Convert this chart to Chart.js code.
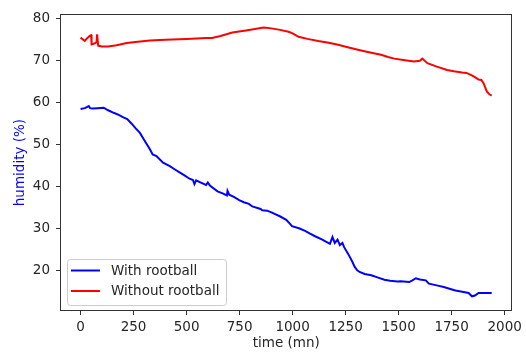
<!DOCTYPE html>
<html>
<head>
<meta charset="utf-8">
<script src="https://cdn.jsdelivr.net/npm/chart.js@4/dist/chart.umd.min.js"></script>
<style>
  html, body { margin: 0; padding: 0; background: #fff; }
  canvas { display: block; }
</style>
</head>
<body>
<canvas id="chart" width="526" height="353"></canvas>
<script>
// humidity over time
const withTime = [0, 20, 39, 45, 55, 80, 109, 130, 156, 180, 202, 220, 241, 260, 280, 300, 327, 340, 358, 389,
  421, 445, 467, 490, 514, 530, 537, 545, 570, 592, 600, 610, 646, 670, 690, 693, 701, 725, 748, 770,
  794, 810, 849, 857, 880, 900, 942, 970, 989, 997, 1030, 1059, 1080, 1106, 1140, 1176, 1188, 1199, 1212, 1223,
  1235, 1243, 1262, 1280, 1293, 1305, 1316, 1340, 1371, 1400, 1433, 1460, 1495, 1510, 1550, 1565, 1581, 1600, 1628, 1643,
  1680, 1713, 1740, 1768, 1800, 1830, 1846, 1860, 1877, 1900, 1939];
const withHumidity = [58.4, 58.6, 59.1, 58.6, 58.5, 58.6, 58.7, 58.1, 57.5, 57.0, 56.4, 56.0, 54.9, 53.8, 52.7, 51.0, 48.8, 47.6, 47.2, 45.6,
  44.8, 44.0, 43.3, 42.6, 41.8, 41.5, 40.5, 41.4, 40.8, 40.3, 40.9, 40.2, 38.8, 38.3, 37.8, 38.9, 38.0, 37.4, 36.7, 36.2,
  35.8, 35.2, 34.6, 34.3, 34.2, 33.8, 32.8, 32.0, 31.0, 30.5, 30.0, 29.4, 28.8, 28.1, 27.3, 26.3, 27.9, 26.5, 27.3, 26.0,
  26.5, 25.5, 23.9, 22.2, 20.8, 20.0, 19.6, 19.1, 18.8, 18.3, 17.75, 17.5, 17.35, 17.4, 17.2, 17.6, 18.1, 17.8, 17.6, 16.8,
  16.4, 16.0, 15.6, 15.2, 14.9, 14.6, 13.8, 14.0, 14.6, 14.6, 14.6];

const withoutTime = [0, 20, 30, 45, 50, 52, 65, 75, 78, 83, 100, 130, 170, 218, 270, 327, 400, 500, 592, 620,
  660, 716, 780, 864, 900, 935, 981, 1000, 1028, 1070, 1121, 1170, 1215, 1260, 1308, 1360, 1417, 1450, 1480, 1530,
  1573, 1600, 1612, 1625, 1636, 1680, 1729, 1760, 1799, 1820, 1838, 1860, 1877, 1890, 1900, 1916, 1928, 1939];
const withoutHumidity = [75.4, 74.6, 75.2, 75.9, 76.0, 73.8, 74.0, 74.3, 76.2, 73.5, 73.3, 73.3, 73.6, 74.1, 74.4, 74.7, 74.9, 75.1, 75.3, 75.3,
  75.8, 76.6, 77.1, 77.8, 77.6, 77.3, 76.8, 76.4, 75.6, 75.1, 74.6, 74.2, 73.7, 73.1, 72.5, 71.9, 71.3, 70.8, 70.4, 70.0,
  69.7, 69.9, 70.4, 69.8, 69.3, 68.5, 67.7, 67.4, 67.1, 67.0, 66.6, 66.0, 65.4, 65.3, 64.6, 62.6, 61.9, 61.6];

const seriesLabels = ["With rootball", "Without rootball"];
const xTicks = [0, 250, 500, 750, 1000, 1250, 1500, 1750, 2000];
const yTicks = [20, 30, 40, 50, 60, 70, 80];

const FONT = { family: "'DejaVu Sans', sans-serif", size: 13.5 };
const INK = "#262626";

const toPoints = (xs, ys) => xs.map((x, i) => ({ x, y: ys[i] }));

// matplotlib style box around the whole axes
const framePlugin = {
  id: "frame",
  afterDatasetsDraw(chart) {
    const { ctx, chartArea: a } = chart;
    ctx.save();
    ctx.strokeStyle = "#333";
    ctx.lineWidth = 1;
    ctx.strokeRect(Math.round(a.left) + 0.5, Math.round(a.top) + 0.5,
      Math.round(a.right - a.left) - 1, Math.round(a.bottom - a.top) - 1);
    ctx.restore();
  },
};

// legend drawn inside the plot, lower left
const insideLegend = {
  id: "insideLegend",
  afterDraw(chart) {
    const { ctx, chartArea: a } = chart;
    const x = a.left + 7, w = 159, h = 46;
    const y = a.bottom - 6 - h;
    ctx.save();
    ctx.beginPath();
    ctx.roundRect(x + 0.5, y + 0.5, w, h, 3);
    ctx.fillStyle = "rgba(255,255,255,0.8)";
    ctx.fill();
    ctx.strokeStyle = "#cccccc";
    ctx.lineWidth = 1;
    ctx.stroke();
    ctx.font = `${FONT.size}px ${FONT.family}`;
    ctx.textBaseline = "middle";
    chart.data.datasets.forEach((ds, i) => {
      const ly = y + 11.5 + i * 20.5;
      ctx.strokeStyle = ds.borderColor;
      ctx.lineWidth = ds.borderWidth;
      ctx.beginPath();
      ctx.moveTo(x + 4, ly);
      ctx.lineTo(x + 33, ly);
      ctx.stroke();
      ctx.fillStyle = INK;
      ctx.fillText(ds.label, x + 44, ly + 0.5);
    });
    ctx.restore();
  },
};

new Chart(document.getElementById("chart"), {
  type: "line",
  data: {
    datasets: [
      {
        label: seriesLabels[0],
        data: toPoints(withTime, withHumidity),
        borderColor: "#0000ff",
        borderWidth: 2,
        pointRadius: 0,
        tension: 0,
      },
      {
        label: seriesLabels[1],
        data: toPoints(withoutTime, withoutHumidity),
        borderColor: "#ff0000",
        borderWidth: 2,
        pointRadius: 0,
        tension: 0,
      },
    ],
  },
  options: {
    responsive: false,
    animation: false,
    devicePixelRatio: 1,
    layout: { padding: { top: 14, right: 11, left: 0, bottom: 0 } },
    plugins: { legend: { display: false }, tooltip: { enabled: false } },
    scales: {
      x: {
        type: "linear",
        min: -97,
        max: 2037,
        afterBuildTicks: (s) => { s.ticks = xTicks.map((v) => ({ value: v })); },
        afterFit: (s) => { s.height = 42; },
        grid: { drawOnChartArea: false, drawTicks: true, tickLength: 4, tickColor: "#333" },
        border: { display: false },
        ticks: { color: INK, font: FONT, padding: 4, autoSkip: false, maxRotation: 0, callback: (v) => String(v) },
        title: { display: true, text: "time (mn)", color: INK, font: FONT, padding: { top: 0, bottom: 1 } },
      },
      y: {
        min: 10.3,
        max: 81.0,
        afterBuildTicks: (s) => { s.ticks = yTicks.map((v) => ({ value: v })); },
        afterFit: (s) => { s.width = 60; },
        grid: { drawOnChartArea: false, drawTicks: true, tickLength: 4, tickColor: "#333" },
        border: { display: false },
        ticks: { color: INK, font: FONT, padding: 6, callback: (v) => String(v) },
        title: { display: true, text: "humidity (%)", color: "#0000ff", font: FONT, padding: { top: 12, bottom: 0 } },
      },
    },
  },
  plugins: [framePlugin, insideLegend],
});
</script>
</body>
</html>
